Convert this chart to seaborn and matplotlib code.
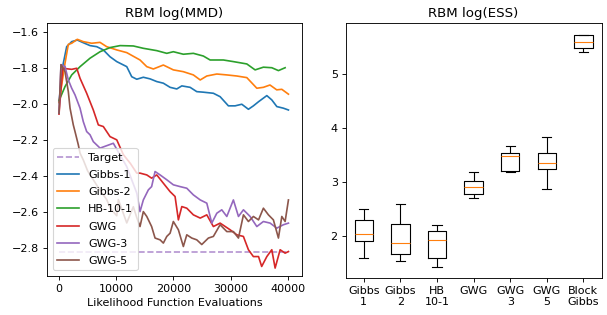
import matplotlib
matplotlib.use("Agg")
import matplotlib.pyplot as plt
import seaborn as sns
import pandas as pd
import numpy as np

# ---------------- Left panel data: log(MMD) vs likelihood evaluations ----------------
target_x = [0, 40200]
target_y = [-2.824, -2.824]

gibbs1_x = [0, 640, 1340, 2220, 3200, 4250, 5430, 6600, 7750, 8925, 10100, 11850, 12720, 13600,
            14750, 15930, 17100, 18250, 19430, 20600, 21480, 22930, 24100, 25250, 27000, 28180,
            29630, 30800, 31970, 33130, 34000, 34900, 36350, 37220, 38100, 39250, 40130]
gibbs1_y = [-1.99, -1.79, -1.68, -1.652, -1.643, -1.658, -1.674, -1.68, -1.698, -1.736, -1.763,
            -1.791, -1.847, -1.861, -1.85, -1.859, -1.874, -1.883, -1.906, -1.915, -1.898, -1.906,
            -1.93, -1.933, -1.939, -1.958, -2.009, -2.009, -2.0, -2.028, -2.009, -1.986, -1.952,
            -1.976, -2.013, -2.022, -2.032]

gibbs2_x = [0, 1050, 1630, 2220, 3200, 4250, 5720, 7170, 8340, 10100, 11850, 14170, 15350, 16500,
            18250, 20000, 21750, 23500, 24700, 25850, 27600, 29350, 31100, 32850, 34600, 35750,
            36900, 38080, 38970, 40130]
gibbs2_y = [-1.99, -1.772, -1.667, -1.661, -1.639, -1.652, -1.661, -1.656, -1.68, -1.698, -1.713,
            -1.754, -1.791, -1.804, -1.782, -1.809, -1.819, -1.837, -1.865, -1.843, -1.832, -1.837,
            -1.843, -1.852, -1.911, -1.906, -1.893, -1.92, -1.917, -1.944]

hb_x = [0, 1050, 2220, 3680, 5430, 7180, 8925, 10680, 13000, 14750, 17100, 18850, 20000, 21750,
        23500, 25250, 26430, 28750, 30500, 32850, 34300, 35750, 37220, 38380, 39550]
hb_y = [-1.98, -1.902, -1.837, -1.791, -1.744, -1.708, -1.685, -1.674, -1.676, -1.689, -1.702,
        -1.717, -1.708, -1.722, -1.717, -1.732, -1.754, -1.754, -1.763, -1.776, -1.809, -1.794,
        -1.797, -1.813, -1.797]

gwg_x = [0, 640, 2220, 3100, 3680, 4840, 6000, 6880, 7750, 8925, 10100, 11250, 12500, 13600,
         14170, 15350, 16200, 17100, 18250, 19430, 20300, 20880, 21480, 22350, 23500, 24700,
         25850, 27000, 28180, 29930, 31100, 32250, 33130, 34000, 34900, 35450, 36350, 37220,
         37800, 38680, 39550, 40130]
gwg_y = [-2.055, -1.80, -1.806, -1.80, -1.856, -1.939, -2.032, -2.115, -2.124, -2.18, -2.198,
         -2.28, -2.33, -2.383, -2.383, -2.393, -2.411, -2.393, -2.439, -2.486, -2.513, -2.643,
         -2.569, -2.578, -2.615, -2.633, -2.615, -2.68, -2.661, -2.698, -2.726, -2.735, -2.809,
         -2.847, -2.847, -2.902, -2.847, -2.809, -2.911, -2.809, -2.828, -2.819]

gwg3_x = [0, 350, 1050, 1630, 2220, 2800, 3680, 4250, 4840, 5430, 6000, 7180, 9500, 11850,
          13600, 14170, 14750, 15630, 16200, 16800, 17680, 18850, 20000, 21180, 22350, 23500,
          24700, 25850, 26720, 27600, 28470, 29350, 30500, 31390, 32260, 33430, 34600, 35750,
          36930, 38100, 39250, 40130]
gwg3_y = [-2.05, -1.78, -1.79, -1.865, -1.911, -1.948, -2.022, -2.097, -2.152, -2.17, -2.208,
          -2.244, -2.217, -2.347, -2.494, -2.597, -2.532, -2.476, -2.458, -2.374, -2.393, -2.42,
          -2.448, -2.458, -2.467, -2.504, -2.532, -2.55, -2.661, -2.606, -2.587, -2.624, -2.532,
          -2.624, -2.587, -2.624, -2.68, -2.652, -2.661, -2.689, -2.67, -2.661]

gwg5_x = [0, 350, 1050, 1630, 1930, 2500, 2800, 3380, 3680, 4250, 5000, 6000, 7000, 8340, 9000,
          10100, 10380, 11850, 13000, 13600, 14170, 14750, 15350, 16200, 16800, 17680, 18250,
          18850, 19430, 20000, 20880, 21750, 22350, 23220, 24100, 24970, 26130, 27000, 28180,
          29350, 30500, 31390, 32260, 33130, 34000, 34900, 35750, 36630, 37500, 38380, 38970,
          39550, 40130]
gwg5_y = [-2.05, -1.78, -1.819, -1.93, -2.022, -2.115, -2.152, -2.226, -2.272, -2.31, -2.37,
          -2.42, -2.47, -2.53, -2.58, -2.62, -2.53, -2.66, -2.57, -2.63, -2.68, -2.597, -2.624,
          -2.68, -2.744, -2.754, -2.772, -2.735, -2.717, -2.652, -2.698, -2.791, -2.726, -2.744,
          -2.754, -2.78, -2.744, -2.735, -2.67, -2.708, -2.708, -2.744, -2.615, -2.652, -2.624,
          -2.643, -2.578, -2.615, -2.643, -2.744, -2.624, -2.652, -2.532]

series_names = ["Gibbs-1", "Gibbs-2", "HB-10-1", "GWG", "GWG-3", "GWG-5"]
series_x = [gibbs1_x, gibbs2_x, hb_x, gwg_x, gwg3_x, gwg5_x]
series_y = [gibbs1_y, gibbs2_y, hb_y, gwg_y, gwg3_y, gwg5_y]
series_colors = ["C0", "C1", "C2", "C3", "C4", "C5"]

# ---------------- Right panel data: log(ESS) box statistics ----------------
box_labels = ["Gibbs\n1", "Gibbs\n2", "HB\n10-1", "GWG", "GWG\n3", "GWG\n5", "Block\nGibbs"]
ess_gibbs1 = [1.585, 1.90, 2.04, 2.30, 2.50]
ess_gibbs2 = [1.54, 1.66, 1.876, 2.23, 2.60]
ess_hb = [1.43, 1.585, 1.92, 2.09, 2.21]
ess_gwg = [2.70, 2.78, 2.91, 3.02, 3.18]
ess_gwg3 = [3.18, 3.21, 3.48, 3.53, 3.67]
ess_gwg5 = [2.87, 3.24, 3.35, 3.53, 3.83]
ess_block = [5.41, 5.49, 5.60, 5.73, 5.73]
ess_values = [ess_gibbs1, ess_gibbs2, ess_hb, ess_gwg, ess_gwg3, ess_gwg5, ess_block]

# ---------------- Figure ----------------
W, H = 607, 315
DPI = 80
fig = plt.figure(figsize=(W / DPI, H / DPI), dpi=DPI)
ax1 = fig.add_axes([47 / W, (H - 276) / H, (301.7 - 47) / W, (276 - 23.3) / H])
ax2 = fig.add_axes([345.5 / W, (H - 278) / H, (601.7 - 345.5) / W, (278 - 23.3) / H])

sns.lineplot(x=target_x, y=target_y, ax=ax1, color="C4", linestyle="--", alpha=0.7,
             label="Target", estimator=None)
for name, xs, ys, c in zip(series_names, series_x, series_y, series_colors):
    sns.lineplot(x=xs, y=ys, ax=ax1, color=c, label=name, estimator=None)

ax1.set_xlim(-2100, 42450)
ax1.set_ylim(-2.955, -1.55)
ax1.set_title("RBM log(MMD)")
ax1.set_xlabel("Likelihood Function Evaluations")
ax1.set_ylabel("")
ax1.legend(loc="lower left", labelspacing=0.65)

rows = []
for lab, vals in zip(box_labels, ess_values):
    for v in vals:
        rows.append({"method": lab, "ess": v})
df_box = pd.DataFrame(rows)

sns.boxplot(data=df_box, x="method", y="ess", ax=ax2, order=box_labels, fill=False,
            color="black", width=0.5, linewidth=1, whis=1.5,
            medianprops={"color": "C1"})
ax2.set_xlim(-0.5, 6.5)
ax2.set_ylim(1.22, 5.945)
ax2.set_title("RBM log(ESS)")
ax2.set_xlabel("")
ax2.set_ylabel("")

fig.savefig("out.png", dpi=DPI)
